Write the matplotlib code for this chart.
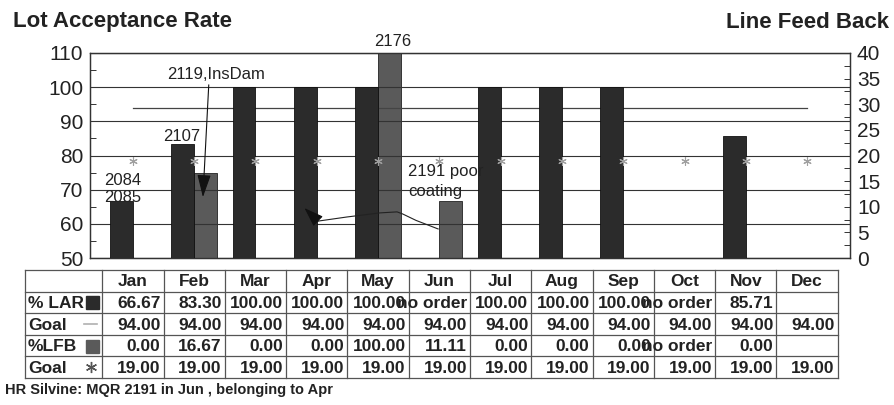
import numpy as np
import matplotlib.pyplot as plt
from matplotlib.patches import Rectangle
from matplotlib.ticker import MultipleLocator

plt.rcParams["font.family"] = ["Liberation Sans", "DejaVu Sans"]

months = ["Jan", "Feb", "Mar", "Apr", "May", "Jun",
          "Jul", "Aug", "Sep", "Oct", "Nov", "Dec"]
# None = no order / no data for that month
lar = [66.67, 83.30, 100.00, 100.00, 100.00, None,
       100.00, 100.00, 100.00, None, 85.71, None]
lar_goal = [94.00] * 12
lfb = [0.00, 16.67, 0.00, 0.00, 100.00, 11.11,
       0.00, 0.00, 0.00, None, 0.00, None]
lfb_goal = [19.00] * 12
lar_text = ["no order" if v is None else "" for v in lar]
lfb_text = ["no order" if v is None else "" for v in lfb]
lar_text[11] = ""
lfb_text[11] = ""

W, H = 894, 405
DARK = "#2b2b2b"
GREY = "#5a5a5a"
STAR = "#a0a0a0"

fig = plt.figure(figsize=(W / 100, H / 100), dpi=100)

# plot area in pixels
ax_l, ax_r, ax_t, ax_b = 90, 850, 53, 258
ax = fig.add_axes([ax_l / W, 1 - ax_b / H, (ax_r - ax_l) / W, (ax_b - ax_t) / H])
ax2 = ax.twinx()

xmin, xmax = -0.70, 11.70
x = np.arange(12)
w = 0.375

lar_vals = np.array([np.nan if v is None else v for v in lar])
lfb_vals = np.array([np.nan if v is None else v for v in lfb])

ax.set_zorder(ax2.get_zorder() + 1)
ax.patch.set_visible(False)

ax.bar(x - w / 2, lar_vals - 50, bottom=50, width=w, color=DARK,
       edgecolor="#111111", linewidth=0.6, zorder=3)
ax2.bar(x + w / 2, lfb_vals, width=w, color=GREY,
        edgecolor="#222222", linewidth=0.6, zorder=3)
ax.plot(x, lar_goal, color="#444444", lw=0.9, zorder=2)
ax.plot(x, [50 + g * 1.5 for g in lfb_goal], ls="none", marker=(6, 2, 0),
        ms=6, mew=0.8, color=STAR, zorder=4)

ax.set_xlim(xmin, xmax)
ax.set_ylim(50, 110)
ax2.set_ylim(0, 40)
ax.set_xticks([])
for a in (ax, ax2):
    a.tick_params(axis="x", length=0)
    for s in a.spines.values():
        s.set_color("#333333")
        s.set_linewidth(0.9)

ax.yaxis.set_major_locator(MultipleLocator(10))
ax.yaxis.set_minor_locator(MultipleLocator(5))
ax2.yaxis.set_major_locator(MultipleLocator(5))
ax2.yaxis.set_minor_locator(MultipleLocator(2.5))
ax.tick_params(axis="y", which="both", direction="in", labelsize=15,
               length=4, width=0.7, colors="#333333", labelcolor="#222222", pad=5)
ax2.tick_params(axis="y", which="both", direction="in", labelsize=15,
                length=4, width=0.7, colors="#333333", labelcolor="#222222", pad=5)
ax.yaxis.grid(True, which="major", color="#333333", lw=0.8, zorder=0)
ax.set_axisbelow(True)

# callouts
fs = 12
ax.text(-0.47, 72.8, "2084", fontsize=fs, va="center", color="#222222", zorder=5)
ax.text(-0.47, 67.6, "2085", fontsize=fs, va="center", color="#222222", zorder=5)
ax.text(0.50, 85.6, "2107", fontsize=fs, va="center", color="#222222", zorder=5)
ax.text(1.35, 103.6, "2119,InsDam", fontsize=fs, va="center", ha="center",
        color="#222222", zorder=5)
ax.annotate("", xy=(1.14, 67.0), xytext=(1.24, 101.5),
            arrowprops=dict(arrowstyle="-|>,head_length=1.0,head_width=0.3",
                            color="#111111", lw=0.8, mutation_scale=14), zorder=5)
ax.text(4.24, 113.4, "2176", fontsize=fs, va="center", ha="center",
        color="#222222", clip_on=False, zorder=5)
ax.text(4.49, 75.2, "2191 poor", fontsize=fs, va="center", color="#222222", zorder=5)
ax.text(4.49, 69.4, "coating", fontsize=fs, va="center", color="#222222", zorder=5)

# curved leader from Jun back to Apr
cx = [4.98, 4.62, 4.40, 4.31, 4.03, 3.49, 3.10, 3.02]
cy = [58.5, 61.0, 62.9, 63.5, 63.2, 62.0, 61.0, 60.8]
ax.plot(cx, cy, color="#222222", lw=0.8, zorder=5)
ax.annotate("", xy=(2.80, 64.6), xytext=(cx[-1], cy[-1]),
            arrowprops=dict(arrowstyle="-|>,head_length=1.0,head_width=0.35",
                            color="#111111", lw=0.8, mutation_scale=12,
                            shrinkA=0, shrinkB=0), zorder=5)

# titles
fig.text(13 / W, 1 - 22 / H, "Lot Acceptance Rate", fontsize=16, fontweight="bold",
         va="center", ha="left", color="#222222")
fig.text(889 / W, 1 - 22 / H, "Line Feed Back", fontsize=16, fontweight="bold",
         va="center", ha="right", color="#222222")

# data table underneath, drawn in pixel space
tab = fig.add_axes([0, 0, 1, 1])
tab.set_xlim(0, W)
tab.set_ylim(H, 0)
tab.axis("off")

col_w = (ax_r - ax_l) / (xmax - xmin)
col0 = ax_l + (-0.5 - xmin) * col_w
edges = [col0 + i * col_w for i in range(13)]
lab_x0 = 25
row_top = 270
row_h = 21.6
n_rows = 5
line_c = "#555555"
for r in range(n_rows + 1):
    yy = row_top + r * row_h
    tab.plot([lab_x0, edges[-1]], [yy, yy], color=line_c, lw=0.9)
for xx in [lab_x0] + edges:
    tab.plot([xx, xx], [row_top, row_top + n_rows * row_h], color=line_c, lw=0.9)

tfs = 12.5
for i, m in enumerate(months):
    tab.text((edges[i] + edges[i + 1]) / 2, row_top + row_h / 2 + 1, m,
             fontsize=tfs, fontweight="bold", ha="center", va="center",
             color="#222222")

rows = [
    ("% LAR", lar, lar_text),
    ("Goal", lar_goal, [""] * 12),
    ("%LFB", lfb, lfb_text),
    ("Goal", lfb_goal, [""] * 12),
]
for r, (name, vals, texts) in enumerate(rows):
    yc = row_top + (r + 1.5) * row_h + 1
    tab.text(lab_x0 + 3, yc, name, fontsize=tfs, fontweight="bold",
             ha="left", va="center", color="#222222")
    for i, v in enumerate(vals):
        s = f"{v:.2f}" if v is not None else texts[i]
        if s:
            tab.text(edges[i + 1] - 3, yc, s, fontsize=tfs, fontweight="bold",
                     ha="right", va="center", color="#222222", zorder=3)

# legend keys in the label column
key_y = [row_top + (r + 1.5) * row_h for r in range(4)]
tab.add_patch(Rectangle((86, key_y[0] - 6), 13, 13, color=DARK, zorder=4))
tab.plot([84, 97], [key_y[1], key_y[1]], color="#b0b0b0", lw=1.2)
tab.add_patch(Rectangle((86, key_y[2] - 6), 13, 13, color=GREY, zorder=4))
tab.plot([91], [key_y[3]], marker=(6, 2, 0), ms=8, mew=1.0, color="#555555")

fig.text(5 / W, 1 - 390 / H, "HR Silvine: MQR 2191 in Jun , belonging to Apr",
         fontsize=10.5, fontweight="bold", va="center", ha="left", color="#222222")

fig.savefig("out.png", dpi=100)
